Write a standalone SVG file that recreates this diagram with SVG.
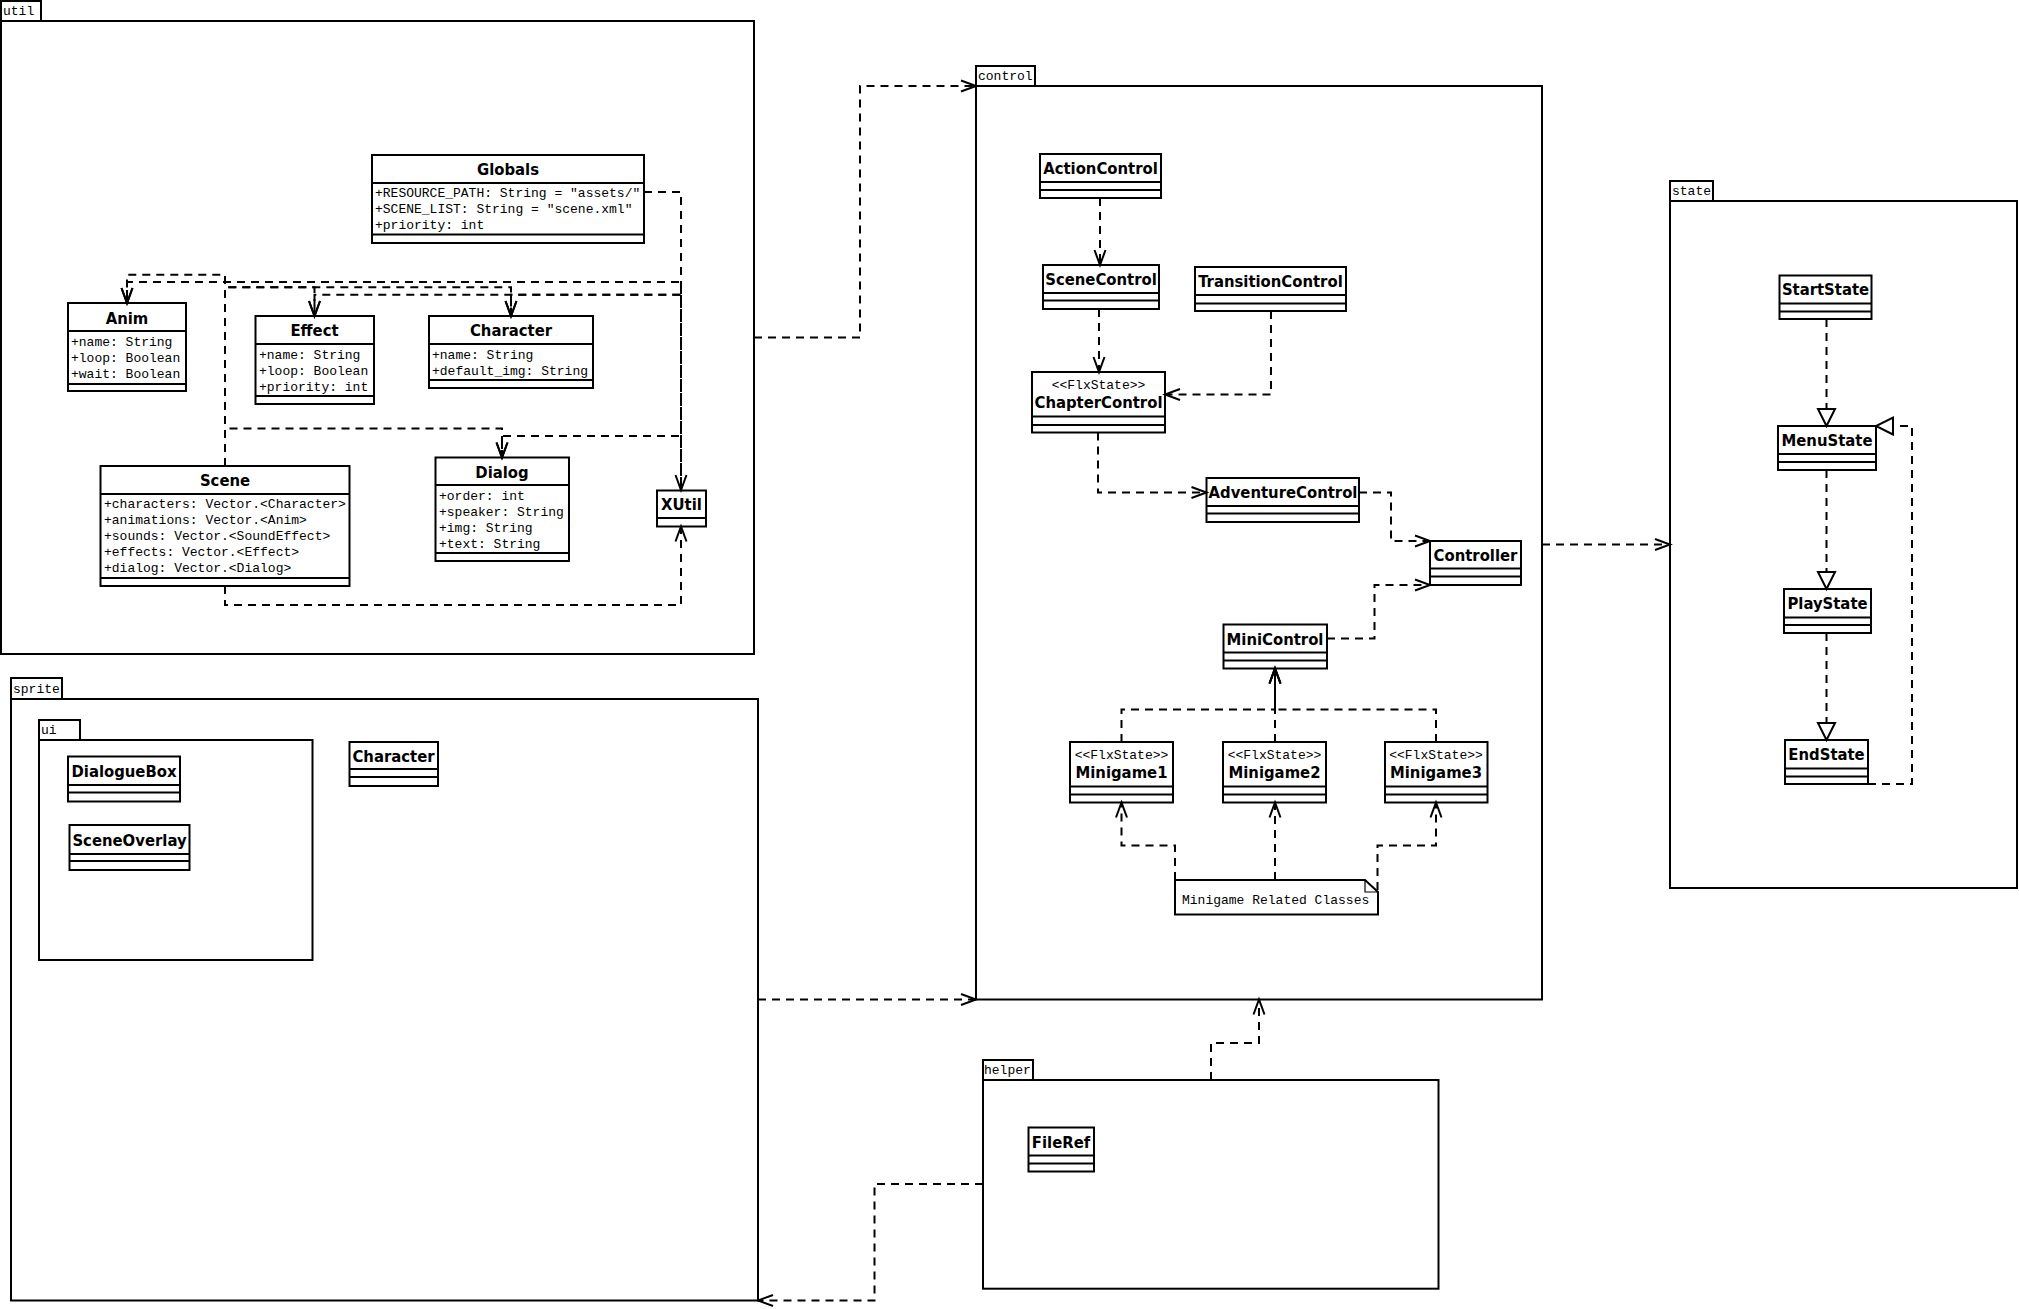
<svg xmlns="http://www.w3.org/2000/svg" width="2019" height="1309" viewBox="0 0 2019 1309">
<style>
.pkg{fill:#fff;stroke:#000;stroke-width:2}
.box{fill:#fff;stroke:#000;stroke-width:2}
.ln{stroke:#000;stroke-width:2}
.nm{font-family:'DejaVu Sans Condensed','DejaVu Sans',sans-serif;font-stretch:condensed;font-weight:bold;font-size:16.5px;text-anchor:middle;fill:#000}
.mono{font-family:'Liberation Mono',monospace;font-size:13px;fill:#000}
.st{font-family:'Liberation Mono',monospace;font-size:13px;fill:#000;text-anchor:middle}
.dep{fill:none;stroke:#000;stroke-width:2;stroke-dasharray:8,6;marker-end:url(#open)}
.gen{fill:none;stroke:#000;stroke-width:2;stroke-dasharray:8,6;marker-end:url(#tri)}
</style>
<defs>
<marker id="open" markerUnits="userSpaceOnUse" markerWidth="20" markerHeight="20" refX="0" refY="0" orient="auto" overflow="visible">
<path d="M-15,-5.5 L0,0 L-15,5.5" fill="none" stroke="#000" stroke-width="2" stroke-dasharray="none"/>
</marker>
<marker id="tri" markerUnits="userSpaceOnUse" markerWidth="20" markerHeight="20" refX="0" refY="0" orient="auto" overflow="visible">
<path d="M-17,-8.5 L0,0 L-17,8.5 Z" fill="#fff" stroke="#000" stroke-width="2" stroke-dasharray="none"/>
</marker>
</defs>
<rect width="2019" height="1309" fill="#fff"/>

<!-- packages -->
<g id="pkg-util">
<rect class="pkg" x="1" y="1" width="40" height="20"/>
<text class="mono" x="3" y="15">util</text>
<rect class="pkg" x="1" y="21" width="753" height="633" fill="none"/>
</g>
<g id="pkg-control">
<rect class="pkg" x="976" y="66" width="59" height="20"/>
<text class="mono" x="978" y="80">control</text>
<rect class="pkg" x="976" y="86" width="566" height="913.5"/>
</g>
<g id="pkg-state">
<rect class="pkg" x="1670" y="181" width="43" height="20"/>
<text class="mono" x="1672" y="195">state</text>
<rect class="pkg" x="1670" y="201" width="347" height="687"/>
</g>
<g id="pkg-sprite">
<rect class="pkg" x="11" y="678" width="51" height="21"/>
<text class="mono" x="13" y="693">sprite</text>
<rect class="pkg" x="11" y="699" width="747" height="601.5"/>
</g>
<g id="pkg-ui">
<rect class="pkg" x="39" y="720" width="41" height="20"/>
<text class="mono" x="41" y="734">ui</text>
<rect class="pkg" x="39" y="740" width="273.5" height="220"/>
</g>
<g id="pkg-helper">
<rect class="pkg" x="983" y="1060" width="50" height="20"/>
<text class="mono" x="984" y="1074">helper</text>
<rect class="pkg" x="983" y="1080" width="455.5" height="208.7"/>
</g>

<!-- util classes -->
<g id="Globals">
<rect class="box" x="372" y="155" width="272" height="88"/>
<line class="ln" x1="372" y1="183" x2="644" y2="183"/>
<line class="ln" x1="372" y1="234.5" x2="644" y2="234.5"/>
<text class="nm" x="508" y="175">Globals</text>
<text class="mono" x="375" y="197">+RESOURCE_PATH: String = "assets/"</text>
<text class="mono" x="375" y="213">+SCENE_LIST: String = "scene.xml"</text>
<text class="mono" x="375" y="229">+priority: int</text>
</g>
<g id="Anim">
<rect class="box" x="68" y="303" width="118" height="88"/>
<line class="ln" x1="68" y1="331" x2="186" y2="331"/>
<line class="ln" x1="68" y1="384" x2="186" y2="384"/>
<text class="nm" x="127" y="323.5">Anim</text>
<text class="mono" x="71" y="346">+name: String</text>
<text class="mono" x="71" y="362">+loop: Boolean</text>
<text class="mono" x="71" y="378">+wait: Boolean</text>
</g>
<g id="Effect">
<rect class="box" x="255.5" y="316" width="118.5" height="88"/>
<line class="ln" x1="255.5" y1="344" x2="374" y2="344"/>
<line class="ln" x1="255.5" y1="396" x2="374" y2="396"/>
<text class="nm" x="314.5" y="336">Effect</text>
<text class="mono" x="259" y="359">+name: String</text>
<text class="mono" x="259" y="375">+loop: Boolean</text>
<text class="mono" x="259" y="391">+priority: int</text>
</g>
<g id="Character-util">
<rect class="box" x="429" y="316" width="164" height="72"/>
<line class="ln" x1="429" y1="344" x2="593" y2="344"/>
<line class="ln" x1="429" y1="380" x2="593" y2="380"/>
<text class="nm" x="511" y="336">Character</text>
<text class="mono" x="432" y="359">+name: String</text>
<text class="mono" x="432" y="375">+default_img: String</text>
</g>
<g id="Scene">
<rect class="box" x="100.5" y="466" width="249" height="120"/>
<line class="ln" x1="100.5" y1="494" x2="349.5" y2="494"/>
<line class="ln" x1="100.5" y1="578" x2="349.5" y2="578"/>
<text class="nm" x="225" y="486">Scene</text>
<text class="mono" x="104" y="508">+characters: Vector.&lt;Character&gt;</text>
<text class="mono" x="104" y="524">+animations: Vector.&lt;Anim&gt;</text>
<text class="mono" x="104" y="540">+sounds: Vector.&lt;SoundEffect&gt;</text>
<text class="mono" x="104" y="556">+effects: Vector.&lt;Effect&gt;</text>
<text class="mono" x="104" y="572">+dialog: Vector.&lt;Dialog&gt;</text>
</g>
<g id="Dialog">
<rect class="box" x="435.5" y="457.5" width="133.5" height="103.5"/>
<line class="ln" x1="435.5" y1="485" x2="569" y2="485"/>
<line class="ln" x1="435.5" y1="553" x2="569" y2="553"/>
<text class="nm" x="502" y="478">Dialog</text>
<text class="mono" x="439" y="500">+order: int</text>
<text class="mono" x="439" y="516">+speaker: String</text>
<text class="mono" x="439" y="532">+img: String</text>
<text class="mono" x="439" y="548">+text: String</text>
</g>
<g id="XUtil">
<rect class="box" x="657" y="490.5" width="49" height="36"/>
<line class="ln" x1="657" y1="518" x2="706" y2="518"/>
<text class="nm" x="681.5" y="509.5">XUtil</text>
</g>

<!-- control classes -->
<g id="ActionControl">
<rect class="box" x="1040" y="154" width="121" height="44"/>
<line class="ln" x1="1040" y1="182" x2="1161" y2="182"/>
<line class="ln" x1="1040" y1="190" x2="1161" y2="190"/>
<text class="nm" x="1100.5" y="174">ActionControl</text>
</g>
<g id="SceneControl">
<rect class="box" x="1043" y="265" width="116" height="44"/>
<line class="ln" x1="1043" y1="293" x2="1159" y2="293"/>
<line class="ln" x1="1043" y1="300.5" x2="1159" y2="300.5"/>
<text class="nm" x="1101" y="285">SceneControl</text>
</g>
<g id="TransitionControl">
<rect class="box" x="1195" y="267" width="151" height="44"/>
<line class="ln" x1="1195" y1="295" x2="1346" y2="295"/>
<line class="ln" x1="1195" y1="303.5" x2="1346" y2="303.5"/>
<text class="nm" x="1270.5" y="287">TransitionControl</text>
</g>
<g id="ChapterControl">
<rect class="box" x="1032" y="372" width="133" height="60.5"/>
<line class="ln" x1="1032" y1="416.5" x2="1165" y2="416.5"/>
<line class="ln" x1="1032" y1="425" x2="1165" y2="425"/>
<text class="st" x="1098.5" y="388.5">&lt;&lt;FlxState&gt;&gt;</text>
<text class="nm" x="1098.5" y="407.5">ChapterControl</text>
</g>
<g id="AdventureControl">
<rect class="box" x="1206.5" y="478" width="152.5" height="44"/>
<line class="ln" x1="1206.5" y1="506" x2="1359" y2="506"/>
<line class="ln" x1="1206.5" y1="513.5" x2="1359" y2="513.5"/>
<text class="nm" x="1283" y="498">AdventureControl</text>
</g>
<g id="Controller">
<rect class="box" x="1430" y="541" width="91" height="44"/>
<line class="ln" x1="1430" y1="568.5" x2="1521" y2="568.5"/>
<line class="ln" x1="1430" y1="576.5" x2="1521" y2="576.5"/>
<text class="nm" x="1475.5" y="561">Controller</text>
</g>
<g id="MiniControl">
<rect class="box" x="1223.5" y="624.5" width="103.5" height="44"/>
<line class="ln" x1="1223.5" y1="652.5" x2="1327" y2="652.5"/>
<line class="ln" x1="1223.5" y1="660.5" x2="1327" y2="660.5"/>
<text class="nm" x="1275" y="644.5">MiniControl</text>
</g>
<g id="Minigame1">
<rect class="box" x="1070" y="742" width="103" height="60.5"/>
<line class="ln" x1="1070" y1="786.5" x2="1173" y2="786.5"/>
<line class="ln" x1="1070" y1="794.5" x2="1173" y2="794.5"/>
<text class="st" x="1121.5" y="758.5">&lt;&lt;FlxState&gt;&gt;</text>
<text class="nm" x="1121.5" y="778">Minigame1</text>
</g>
<g id="Minigame2">
<rect class="box" x="1223" y="742" width="103" height="60.5"/>
<line class="ln" x1="1223" y1="786.5" x2="1326" y2="786.5"/>
<line class="ln" x1="1223" y1="794.5" x2="1326" y2="794.5"/>
<text class="st" x="1274.5" y="758.5">&lt;&lt;FlxState&gt;&gt;</text>
<text class="nm" x="1274.5" y="778">Minigame2</text>
</g>
<g id="Minigame3">
<rect class="box" x="1385" y="742" width="102.5" height="60.5"/>
<line class="ln" x1="1385" y1="786.5" x2="1487.5" y2="786.5"/>
<line class="ln" x1="1385" y1="794.5" x2="1487.5" y2="794.5"/>
<text class="st" x="1436" y="758.5">&lt;&lt;FlxState&gt;&gt;</text>
<text class="nm" x="1436" y="778">Minigame3</text>
</g>
<g id="Note">
<path class="box" d="M1175,880 H1365 L1378,892 V914.5 H1175 Z"/>
<path d="M1365,880 V892 H1378" fill="none" stroke="#000" stroke-width="1.2"/>
<text class="mono" x="1182" y="904">Minigame Related Classes</text>
</g>

<!-- state classes -->
<g id="StartState">
<rect class="box" x="1779.5" y="275.5" width="92" height="43.5"/>
<line class="ln" x1="1779.5" y1="303.5" x2="1871.5" y2="303.5"/>
<line class="ln" x1="1779.5" y1="311.5" x2="1871.5" y2="311.5"/>
<text class="nm" x="1825.5" y="295">StartState</text>
</g>
<g id="MenuState">
<rect class="box" x="1778" y="426" width="98" height="44"/>
<line class="ln" x1="1778" y1="454" x2="1876" y2="454"/>
<line class="ln" x1="1778" y1="462" x2="1876" y2="462"/>
<text class="nm" x="1827" y="446">MenuState</text>
</g>
<g id="PlayState">
<rect class="box" x="1784" y="589" width="87" height="44"/>
<line class="ln" x1="1784" y1="617.5" x2="1871" y2="617.5"/>
<line class="ln" x1="1784" y1="625" x2="1871" y2="625"/>
<text class="nm" x="1827.5" y="608.5">PlayState</text>
</g>
<g id="EndState">
<rect class="box" x="1785" y="740" width="83" height="44"/>
<line class="ln" x1="1785" y1="768.5" x2="1868" y2="768.5"/>
<line class="ln" x1="1785" y1="776.5" x2="1868" y2="776.5"/>
<text class="nm" x="1826.5" y="760">EndState</text>
</g>

<!-- sprite classes -->
<g id="DialogueBox">
<rect class="box" x="68" y="756.5" width="112" height="45"/>
<line class="ln" x1="68" y1="785" x2="180" y2="785"/>
<line class="ln" x1="68" y1="792.5" x2="180" y2="792.5"/>
<text class="nm" x="124" y="776.5">DialogueBox</text>
</g>
<g id="SceneOverlay">
<rect class="box" x="69.5" y="825" width="120" height="45"/>
<line class="ln" x1="69.5" y1="854" x2="189.5" y2="854"/>
<line class="ln" x1="69.5" y1="861" x2="189.5" y2="861"/>
<text class="nm" x="129.5" y="845.5">SceneOverlay</text>
</g>
<g id="Character-sprite">
<rect class="box" x="349.5" y="742" width="88.5" height="44"/>
<line class="ln" x1="349.5" y1="769" x2="438" y2="769"/>
<line class="ln" x1="349.5" y1="777" x2="438" y2="777"/>
<text class="nm" x="393.5" y="761.5">Character</text>
</g>

<!-- helper classes -->
<g id="FileRef">
<rect class="box" x="1028.5" y="1127.5" width="65.5" height="44"/>
<line class="ln" x1="1028.5" y1="1155.5" x2="1094" y2="1155.5"/>
<line class="ln" x1="1028.5" y1="1163.5" x2="1094" y2="1163.5"/>
<text class="nm" x="1061" y="1147.5">FileRef</text>
</g>

<!-- connectors -->
<g id="connectors">
<path class="dep" d="M644,192 H681 V490"/>
<path class="dep" d="M225,466 V274.7 H127 V303"/>
<path class="dep" d="M225,466 V287.3 H314.5 V316"/>
<path class="dep" d="M225,466 V287.3 H511 V316"/>
<path class="dep" d="M225,466 V428.5 H502 V457.5"/>
<path class="dep" d="M225,586 V605 H681 V526.5"/>
<path class="dep" d="M681,490 V282 H127 V303"/>
<path class="dep" d="M681,490 V294.7 H314.5 V316"/>
<path class="dep" d="M681,490 V294.7 H511 V316"/>
<path class="dep" d="M681,490 V436 H502 V457.5"/>

<path class="dep" d="M754,337.5 H860 V86 H976"/>
<path class="dep" d="M1542,544.5 H1670"/>
<path class="dep" d="M758,999.5 H976"/>
<path class="dep" d="M1211,1080 V1043 H1259 V999.5"/>
<path class="dep" d="M983,1184 H874.5 V1300.5 H758"/>

<path class="dep" d="M1100,198 V265"/>
<path class="dep" d="M1099,309 V372"/>
<path class="dep" d="M1271,311 V394.5 H1165"/>
<path class="dep" d="M1098,432.5 V492.5 H1206.5"/>
<path class="dep" d="M1359,492.5 H1391 V541 H1430"/>
<path class="dep" d="M1327,638.5 H1374.5 V585 H1430"/>
<path class="dep" d="M1121.5,742 V709.5 H1275 V668.5"/>
<path class="dep" d="M1275,742 V668.5"/>
<path class="dep" d="M1436,742 V709.5 H1275 V668.5"/>
<path class="dep" d="M1175,880 V845.5 H1121.5 V802.5"/>
<path class="dep" d="M1275,880 V802.5"/>
<path class="dep" d="M1377.5,890 V845.5 H1436 V802.5"/>

<path class="gen" d="M1826.5,319 V426"/>
<path class="gen" d="M1826.5,470 V589"/>
<path class="gen" d="M1826.5,633 V740"/>
<path class="gen" d="M1868,784 H1912 V426 H1876"/>
</g>
</svg>
